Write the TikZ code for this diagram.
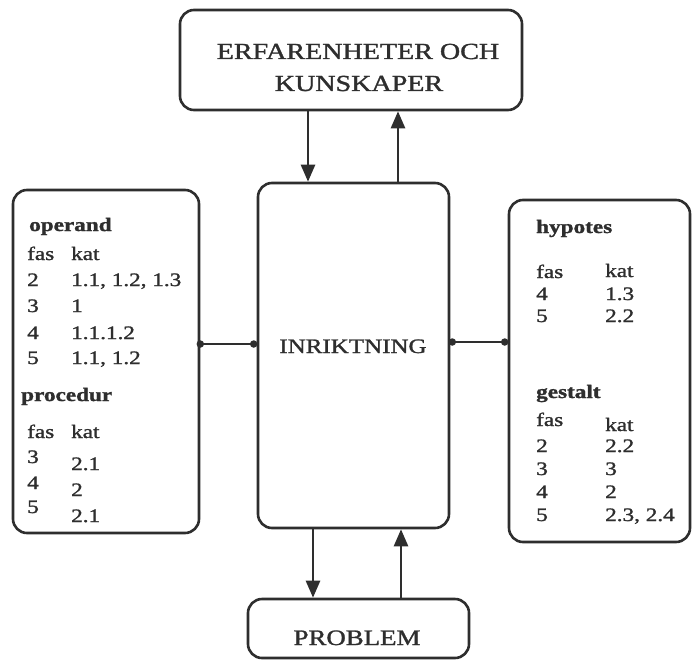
\documentclass[tikz,border=0pt]{standalone}
\usepackage{fontspec}
\setmainfont{Liberation Serif}[FakeBold=1.2]
\usepackage{graphicx}
\usetikzlibrary{arrows.meta,calc}
\definecolor{ink}{HTML}{2E2E2E}
% slightly widened type
\newcommand{\stx}[1]{\scalebox{1.22}[1]{#1}}
\tikzset{
  panel/.style={draw=ink, line width=2.6pt, rounded corners=14pt, fill=white, inner sep=0pt},
  flow/.style={draw=ink, line width=2.6pt, -{Triangle[length=17pt,width=14pt]}},
  link/.style={draw=ink, line width=2.3pt},
  dot/.style={circle, fill=ink, inner sep=0pt, minimum size=7.5pt},
  txt/.style={anchor=base west, inner sep=0pt, text=ink, font=\fontsize{19}{22}\selectfont},
  head/.style={txt, font=\fontsize{19}{22}\selectfont\bfseries},
  title/.style={anchor=base, inner sep=0pt, text=ink}
}
\begin{document}
\begin{tikzpicture}[x=1pt,y=-1pt]
\useasboundingbox (0,0) rectangle (692,666);

% boxes
\node[panel, minimum width=342pt, minimum height=100pt] (exp) at (351,60) {};
\node[panel, minimum width=191pt, minimum height=345pt] (mid) at (353.5,355.5) {};
\node[panel, minimum width=186pt, minimum height=343pt] (left) at (106,361.5) {};
\node[panel, minimum width=181pt, minimum height=342pt] (right) at (599.5,371) {};
\node[panel, minimum width=221pt, minimum height=59pt] (prob) at (358.5,628.5) {};

% titles
\node[title, font=\fontsize{23}{32}\selectfont] (expA) at (358,59) {\stx{ERFARENHETER OCH}};
\node[title, font=\fontsize{23}{32}\selectfont] (expB) at (359,91) {\stx{KUNSKAPER}};
\node[title, font=\fontsize{20.5}{24}\selectfont] (midT) at (353,353) {\stx{INRIKTNING}};
\node[title, font=\fontsize{22}{24}\selectfont] (probT) at (357,645) {\stx{PROBLEM}};

% vertical flows
\coordinate (a1) at (308,0);
\coordinate (a2) at (398,0);
\coordinate (a3) at (313,0);
\coordinate (a4) at (401,0);
\draw[flow] (exp.south -| a1) -- (mid.north -| a1);
\draw[flow] (mid.north -| a2) -- (exp.south -| a2);
\draw[flow] (mid.south -| a3) -- (prob.north -| a3);
\draw[flow] (prob.north -| a4) -- (mid.south -| a4);

% side links
\coordinate (lc) at (0,344);
\coordinate (rc) at (0,342);
\draw[link] (left.east |- lc) -- (mid.west |- lc);
\draw[link] (mid.east |- rc) -- (right.west |- rc);
\node[dot] (d1) at (left.east |- lc) {};
\node[dot] (d2) at ($(mid.west |- lc)+(-3,0)$) {};
\node[dot] (d3) at ($(mid.east |- rc)+(2,0)$) {};
\node[dot] (d4) at ($(right.west |- rc)+(-3,0)$) {};

% left panel: operand
\node[head] (opH) at (29,231) {\stx{operand}};
\node[txt] (opF) at (27,260) {\stx{fas}};
\node[txt] (opK) at (71,260) {\stx{kat}};
\node[txt] (op2) at (27,286) {\stx{2}};
\node[txt] (op2k) at (71,286) {\stx{1.1, 1.2, 1.3}};
\node[txt] (op3) at (27,312) {\stx{3}};
\node[txt] (op3k) at (71,312) {\stx{1}};
\node[txt] (op4) at (27,339) {\stx{4}};
\node[txt] (op4k) at (71,339) {\stx{1.1.1.2}};
\node[txt] (op5) at (27,364) {\stx{5}};
\node[txt] (op5k) at (71,364) {\stx{1.1, 1.2}};

% left panel: procedur
\node[head] (prH) at (21,401) {\stx{procedur}};
\node[txt] (prF) at (27,438) {\stx{fas}};
\node[txt] (prK) at (71,438) {\stx{kat}};
\node[txt] (pr3) at (27,463) {\stx{3}};
\node[txt] (pr3k) at (71,470) {\stx{2.1}};
\node[txt] (pr4) at (27,489) {\stx{4}};
\node[txt] (pr4k) at (71,496) {\stx{2}};
\node[txt] (pr5) at (27,513) {\stx{5}};
\node[txt] (pr5k) at (71,522) {\stx{2.1}};

% right panel: hypotes
\node[head] (hyH) at (536,233) {\stx{hypotes}};
\node[txt] (hyF) at (536,278) {\stx{fas}};
\node[txt] (hyK) at (605,277) {\stx{kat}};
\node[txt] (hy4) at (536,300) {\stx{4}};
\node[txt] (hy4k) at (605,300) {\stx{1.3}};
\node[txt] (hy5) at (536,322) {\stx{5}};
\node[txt] (hy5k) at (605,322) {\stx{2.2}};

% right panel: gestalt
\node[head] (geH) at (536,398) {\stx{gestalt}};
\node[txt] (geF) at (536,426) {\stx{fas}};
\node[txt] (geK) at (605,431) {\stx{kat}};
\node[txt] (ge2) at (536,452) {\stx{2}};
\node[txt] (ge2k) at (605,452) {\stx{2.2}};
\node[txt] (ge3) at (536,475) {\stx{3}};
\node[txt] (ge3k) at (605,475) {\stx{3}};
\node[txt] (ge4) at (536,498) {\stx{4}};
\node[txt] (ge4k) at (605,498) {\stx{2}};
\node[txt] (ge5) at (536,521) {\stx{5}};
\node[txt] (ge5k) at (605,521) {\stx{2.3, 2.4}};
\end{tikzpicture}
\end{document}
